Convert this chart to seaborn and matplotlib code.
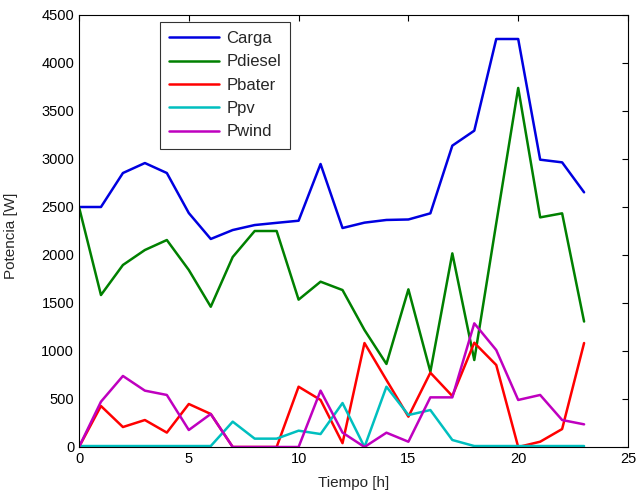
import matplotlib
matplotlib.use("Agg")
import matplotlib.pyplot as plt
import seaborn as sns
import pandas as pd
import numpy as np

hours = list(range(24))
carga = [2500, 2500, 2854, 2958, 2854, 2437, 2167, 2260, 2312, 2335, 2357, 2948,
         2281, 2337, 2365, 2370, 2434, 3139, 3295, 4250, 4250, 2993, 2965, 2653]
pdiesel = [2500, 1583, 1896, 2052, 2156, 1844, 1461, 1979, 2250, 2250, 1535, 1722,
           1635, 1219, 865, 1642, 784, 2017, 906, 2330, 3740, 2392, 2434, 1307]
pbater = [0, 427, 208, 281, 150, 448, 344, 0, 0, 0, 628, 490,
          40, 1083, 698, 316, 774, 531, 1086, 854, 0, 55, 187, 1083]
ppv = [10, 10, 10, 10, 10, 10, 10, 264, 87, 87, 170, 135,
       458, 0, 628, 333, 385, 73, 10, 10, 10, 10, 10, 10]
pwind = [0, 472, 740, 587, 542, 177, 344, 0, 0, 0, 0, 587,
         150, 0, 149, 55, 517, 517, 1288, 1010, 490, 542, 281, 236]

series = {"Carga": carga, "Pdiesel": pdiesel, "Pbater": pbater, "Ppv": ppv, "Pwind": pwind}
colors = {"Carga": "#0000e0", "Pdiesel": "#008000", "Pbater": "#ff0000",
          "Ppv": "#00bfbf", "Pwind": "#bf00bf"}

df = pd.concat([pd.DataFrame({"h": hours, "P": v, "serie": k}) for k, v in series.items()],
               ignore_index=True)

sns.set_style("white")
plt.rcParams['font.family'] = ['Liberation Sans', 'DejaVu Sans']

fig = plt.figure(figsize=(6.36, 4.96), dpi=100)
ax = fig.add_axes([79/636, 1-447/496, 549/636, 432/496])
sns.lineplot(data=df, x="h", y="P", hue="serie", hue_order=list(series.keys()),
             palette=colors, linewidth=1.8, ax=ax, legend=True)

ax.set_xlim(0, 25)
ax.set_ylim(0, 4500)
ax.set_xticks([0, 5, 10, 15, 20, 25])
ax.set_yticks(np.arange(0, 4501, 500))
ax.tick_params(direction="in", top=True, right=True, length=4, width=0.8,
               labelsize=10.5, colors="black")
for s in ax.spines.values():
    s.set_color("black")
    s.set_linewidth(0.8)
ax.set_xlabel("Tiempo [h]", fontsize=11)
ax.set_ylabel("Potencia [W]", fontsize=11)
ax.yaxis.set_label_coords(-0.111, 0.49)
ax.xaxis.set_label_coords(0.5, -0.068)

leg = ax.legend(loc="upper left", bbox_to_anchor=(0.1475, 0.984), fontsize=12,
                handlelength=3.0, labelspacing=0.5, frameon=True, fancybox=False,
                borderpad=0.55, handletextpad=0.42, borderaxespad=0)
leg.get_frame().set_edgecolor("black")
leg.get_frame().set_linewidth(0.8)

fig.savefig("out.png", dpi=100)
